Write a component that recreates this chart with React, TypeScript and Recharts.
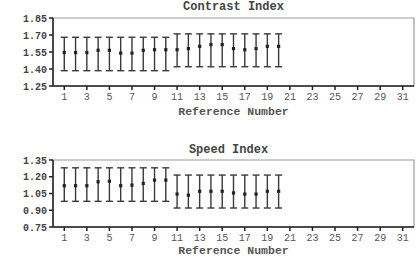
import React from 'react';
import { ScatterChart, Scatter, XAxis, YAxis, ErrorBar, ReferenceArea } from 'recharts';

const refNumbers = [1, 2, 3, 4, 5, 6, 7, 8, 9, 10, 11, 12, 13, 14, 15, 16, 17, 18, 19, 20];

const contrastMean = [1.545, 1.545, 1.545, 1.565, 1.565, 1.54, 1.54, 1.565, 1.57, 1.57, 1.57, 1.58, 1.6, 1.615, 1.615, 1.58, 1.57, 1.58, 1.6, 1.6];
const contrastLow = [1.385, 1.385, 1.385, 1.385, 1.385, 1.385, 1.385, 1.385, 1.385, 1.385, 1.42, 1.42, 1.42, 1.42, 1.42, 1.42, 1.42, 1.42, 1.42, 1.42];
const contrastHigh = [1.68, 1.68, 1.68, 1.68, 1.68, 1.68, 1.68, 1.68, 1.68, 1.68, 1.71, 1.71, 1.71, 1.71, 1.71, 1.71, 1.71, 1.71, 1.71, 1.71];

const speedMean = [1.12, 1.12, 1.12, 1.155, 1.16, 1.12, 1.125, 1.14, 1.17, 1.17, 1.045, 1.035, 1.07, 1.07, 1.07, 1.055, 1.045, 1.045, 1.07, 1.07];
const speedLow = [0.98, 0.98, 0.98, 0.98, 0.98, 0.98, 0.98, 0.98, 0.98, 0.98, 0.92, 0.92, 0.92, 0.92, 0.92, 0.92, 0.92, 0.92, 0.92, 0.92];
const speedHigh = [1.28, 1.28, 1.28, 1.28, 1.28, 1.28, 1.28, 1.28, 1.28, 1.28, 1.215, 1.215, 1.215, 1.215, 1.215, 1.215, 1.215, 1.215, 1.215, 1.215];

const xTicks = [1, 3, 5, 7, 9, 11, 13, 15, 17, 19, 21, 23, 25, 27, 29, 31];
const xDomain = [0, 32];
const contrastTicks = [1.25, 1.4, 1.55, 1.7, 1.85];
const speedTicks = [0.75, 0.9, 1.05, 1.2, 1.35];

const FONT = '"Liberation Mono", "DejaVu Sans Mono", monospace';

function build(mean: number[], low: number[], high: number[]) {
  return refNumbers.map((x, i) => ({
    x,
    y: mean[i],
    err: [mean[i] - low[i], high[i] - mean[i]],
  }));
}

const Dot = (props: any) => {
  const { cx, cy } = props;
  if (cx == null || cy == null) return null;
  return <rect x={cx - 1.6} y={cy - 1.6} width={3.2} height={3.2} fill="#222" />;
};

function Panel(props: {
  title: string;
  data: any[];
  ticks: number[];
  top: number;
  height: number;
  marginTop: number;
  axisHeight: number;
  labelOffset: number;
  titleTop: number;
  titleShift: number;
}) {
  const { title, data, ticks, top, height, marginTop, axisHeight, labelOffset, titleTop, titleShift } = props;
  const yDomain = [ticks[0], ticks[ticks.length - 1]];
  return (
    <div style={{ position: 'absolute', left: 0, top, width: 416, height }}>
      <div
        style={{
          position: 'absolute',
          left: 53 + titleShift,
          width: 361,
          top: titleTop,
          textAlign: 'center',
          fontFamily: FONT,
          fontSize: 12,
          fontWeight: 'bold',
          color: '#444',
          lineHeight: '14px',
        }}
      >
        {title}
      </div>
      <ScatterChart width={416} height={height} margin={{ top: marginTop, right: 2, bottom: 0, left: 0 }}>
        <ReferenceArea x1={xDomain[0]} x2={xDomain[1]} y1={yDomain[0]} y2={yDomain[1]} fill="none" stroke="#9a9a9a" strokeWidth={1.2} ifOverflow="visible" />
        <XAxis
          type="number"
          dataKey="x"
          domain={xDomain}
          ticks={xTicks}
          interval={0}
          height={axisHeight}
          tickSize={4}
          tickMargin={3}
          stroke="#222"
          strokeWidth={1.5}
          tick={{ fontFamily: FONT, fontSize: 10, fill: '#555' }}
          label={{ value: 'Reference Number', position: 'insideBottom', offset: labelOffset, style: { fontFamily: FONT, fontSize: 11.5, fill: '#555', fontWeight: 'bold' } }}
        />
        <YAxis
          type="number"
          dataKey="y"
          domain={yDomain}
          ticks={ticks}
          interval={0}
          width={53}
          tickSize={4}
          tickMargin={2}
          stroke="#222"
          strokeWidth={1.5}
          tickFormatter={(v: number) => v.toFixed(2)}
          tick={{ fontFamily: FONT, fontSize: 10, fill: '#444', fontWeight: 'bold' }}
        />
        <Scatter data={data} isAnimationActive={false} shape={Dot}>
          <ErrorBar dataKey="err" direction="y" width={3.5} stroke="#3a3a3a" strokeWidth={1.4} isAnimationActive={false} />
        </Scatter>
      </ScatterChart>
    </div>
  );
}

export default function App() {
  const contrastData = build(contrastMean, contrastLow, contrastHigh);
  const speedData = build(speedMean, speedLow, speedHigh);
  return (
    <div style={{ position: 'absolute', left: 0, top: 0, width: 416, height: 258, background: '#fff', overflow: 'hidden' }}>
      <Panel
        title="Contrast Index"
        data={contrastData}
        ticks={contrastTicks}
        top={0}
        height={130}
        marginTop={18}
        axisHeight={44}
        labelOffset={15}
        titleTop={0}
        titleShift={0}
      />
      <Panel
        title="Speed Index"
        data={speedData}
        ticks={speedTicks}
        top={140}
        height={118}
        marginTop={20}
        axisHeight={31}
        labelOffset={4}
        titleTop={3}
        titleShift={-5}
      />
    </div>
  );
}
